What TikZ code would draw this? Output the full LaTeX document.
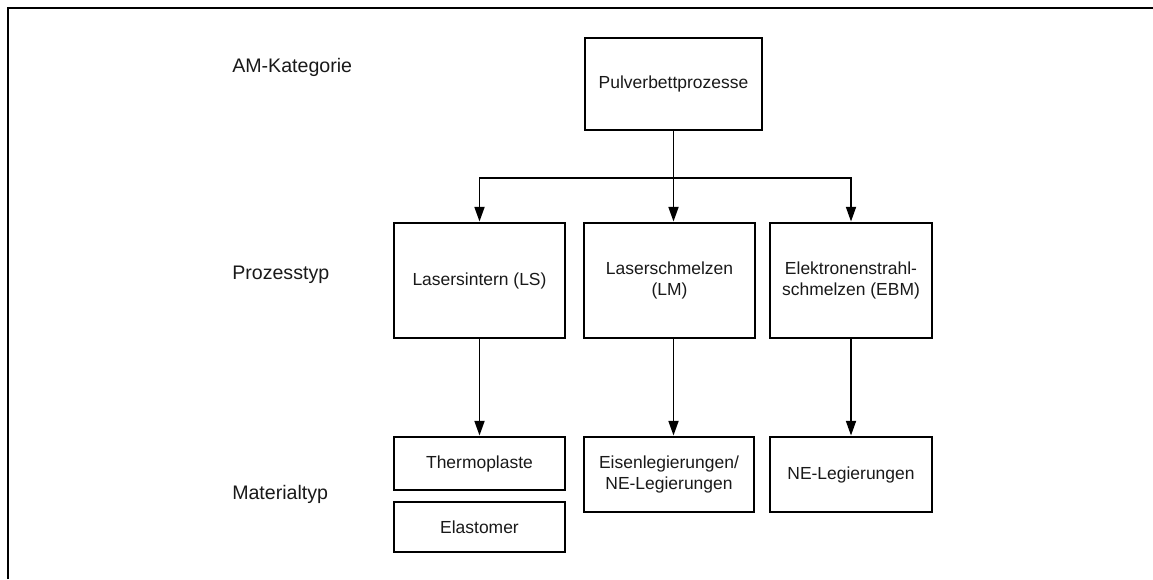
\documentclass[tikz,border=0pt]{standalone}
\usepackage{fontspec}
\setmainfont{Liberation Sans}
\usetikzlibrary{arrows.meta}
\begin{document}
\begin{tikzpicture}[x=0.75pt,y=-0.75pt,
  boxnode/.style 2 args={draw=black,line width=2.2pt,rectangle,inner sep=0pt,
    minimum width={#1*0.75pt},minimum height={#2*0.75pt},align=center,
    font=\fontsize{13.1}{15.6}\selectfont,text=black!90},
  lvl/.style={anchor=base west,inner sep=0pt,font=\fontsize{14.7}{17}\selectfont,text=black!90},
  conn/.style={line width=1.3pt},
  arr/.style={conn,-{Triangle[length=11pt,width=7.5pt]}},
  frameline/.style={line width=2.2pt}]
\useasboundingbox (0,0) rectangle (1153,579);
\coordinate (fa) at (8,579);
\coordinate (fb) at (8,8);
\coordinate (fc) at (1153,8);
\draw[frameline] (fa) -- (fb) -- (fc);

\node[lvl] (lab1) at (232,72) {AM-Kategorie};
\node[lvl] (lab2) at (232,279) {Prozesstyp};
\node[lvl] (lab3) at (232,499) {Materialtyp};

\node[boxnode={177}{92}] (pulver) at (673.5,84) {Pulverbettprozesse};
\node[boxnode={171}{115}] (ls) at (479.5,280.5) {Lasersintern (LS)};
\node[boxnode={171}{115}] (lm) at (669.5,280.5) {Laserschmelzen\\(LM)};
\node[boxnode={162}{115}] (ebm) at (851,280.5) {Elektronenstrahl-\\schmelzen (EBM)};
\node[boxnode={171}{53}] (thermo) at (479.5,463.5) {Thermoplaste};
\node[boxnode={171}{50}] (elast) at (479.5,527) {Elastomer};
\node[boxnode={170}{75}] (eisen) at (669,474.5) {Eisenlegierungen/\\NE-Legierungen};
\node[boxnode={162}{75}] (ne) at (851,474.5) {NE-Legierungen};

\coordinate (bus) at (673.5,178);
\draw[conn] (pulver.south) -- (bus);
\draw[arr] (bus) -| (ls.north);
\draw[arr] (bus) -| (ebm.north);
\draw[arr] (bus) -- (bus |- lm.north);

\draw[arr] (ls.south) -- (thermo.north);
\draw[arr] (bus |- lm.south) -- (bus |- eisen.north);
\draw[arr] (ebm.south) -- (ne.north);
\end{tikzpicture}
\end{document}
